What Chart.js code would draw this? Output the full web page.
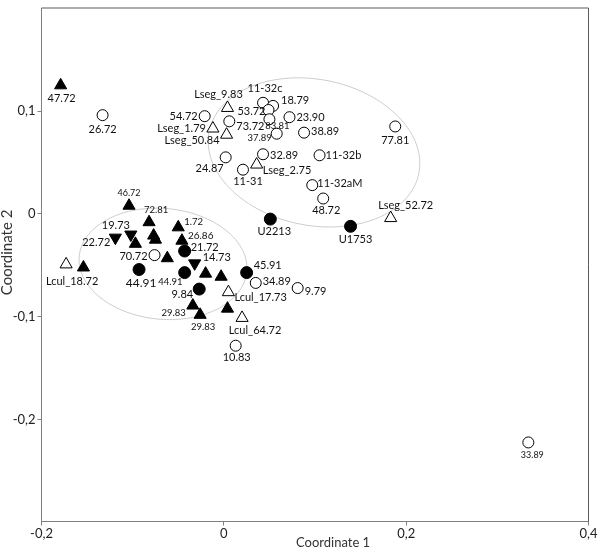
<!DOCTYPE html>
<html>
<head>
<meta charset="utf-8">
<script src="https://cdn.jsdelivr.net/npm/chart.js@4"></script>
<style>
  html, body { margin: 0; padding: 0; background: #fff; }
  canvas { display: block; }
</style>
</head>
<body>
<canvas id="chart" width="600" height="549"></canvas>
<script>
// open circles
const openCircleNames = ['26.72', '54.72', '11-32c', '18.79', '53.72', '83.81', '73.72', '23.90', '38.89', '37.89', '24.87',
  '32.89', '11-31', '11-32b', '11-32aM', '48.72', '77.81', '70.72', '34.89', '9.79', '10.83', '33.89'];
const openCircleX = [-0.133, -0.021, 0.043, 0.054, 0.049, 0.050, 0.006, 0.072, 0.088, 0.058, 0.002,
  0.043, 0.021, 0.105, 0.097, 0.109, 0.188, -0.076, 0.035, 0.081, 0.013, 0.334];
const openCircleY = [0.096, 0.095, 0.108, 0.105, 0.101, 0.092, 0.090, 0.094, 0.079, 0.078, 0.055,
  0.058, 0.043, 0.057, 0.028, 0.015, 0.085, -0.040, -0.067, -0.072, -0.128, -0.222];

// open triangles
const openTriNames = ['Lseg_9.83', 'Lseg_1.79', 'Lseg_50.84', 'Lseg_2.75', 'Lseg_52.72', 'Lcul_18.72', 'Lcul_17.73', 'Lcul_64.72'];
const openTriX = [0.004, -0.012, 0.003, 0.036, 0.183, -0.173, 0.005, 0.020];
const openTriY = [0.103, 0.083, 0.077, 0.048, -0.004, -0.049, -0.076, -0.101];

// filled circles
const dotNames = ['U2213', 'U1753', '21.72', '45.91', '44.91', '44.91', '9.84'];
const dotX = [0.051, 0.139, -0.043, 0.025, -0.093, -0.043, -0.027];
const dotY = [-0.005, -0.012, -0.036, -0.057, -0.054, -0.057, -0.073];

// filled triangles (up)
const triNames = ['47.72', '46.72', '72.81', '1.72', '26.86', '', '', '', '', '', '', '', '29.83', '29.83', ''];
const triX = [-0.179, -0.104, -0.082, -0.050, -0.046, -0.077, -0.075, -0.097, -0.062, -0.154, -0.020, -0.003, -0.034, -0.026, 0.004];
const triY = [0.125, 0.008, -0.008, -0.013, -0.026, -0.021, -0.025, -0.029, -0.043, -0.052, -0.058, -0.061, -0.089, -0.098, -0.092];

// filled triangles (down)
const downNames = ['22.72', '19.73', '14.73'];
const downX = [-0.119, -0.102, -0.032];
const downY = [-0.023, -0.020, -0.048];

const xTicks = [-0.2, 0, 0.2, 0.4];
const yTicks = [-0.2, -0.1, 0, 0.1];
const xTitle = 'Coordinate 1';
const yTitle = 'Coordinate 2';

// group ellipses: centre and two semi-axis vectors, data units
const ellipseCx = [0.0989, -0.0667];
const ellipseCy = [0.0598, -0.0485];
const ellipseAx = [0.1149, 0.0919];
const ellipseAy = [-0.0208, -0.0076];
const ellipseBx = [-0.0165, -0.0058];
const ellipseBy = [-0.0694, -0.0536];

// label placement: [dx, dy, align, font size]
const openCircleLabelPos = [
  [0, 14, 'c', 11], [-7, 0, 'r', 11], [2, -14, 'c', 11], [8, -5, 'l', 11], [-3, 1, 'r', 11],
  [8, 7, 'c', 9.5], [7, 5, 'l', 11], [7, 0, 'l', 11], [7, -1, 'l', 11], [-5, 4, 'r', 9.5],
  [-16, 11, 'c', 11], [7, 1, 'l', 11], [5, 12, 'c', 11], [6, 0, 'l', 11], [5, -2, 'l', 11],
  [3, 12, 'c', 11], [0, 14, 'c', 11], [-7, 1, 'r', 11], [7, -1, 'l', 11], [7, 3, 'l', 11],
  [1, 12, 'c', 11], [4, 13, 'c', 9]
];
const openTriLabelPos = [
  [-9, -13, 'c', 11], [-7, 0, 'r', 11], [-7, 6, 'r', 11], [6, 6, 'l', 11],
  [15, -13, 'c', 11], [6, 17, 'c', 11], [6, 5, 'l', 11], [13, 13, 'c', 11]
];
const dotLabelPos = [
  [4, 12, 'c', 11], [5, 13, 'c', 11], [6, -4, 'l', 11], [7, -7, 'l', 11],
  [2, 14, 'c', 12], [-2, 9, 'r', 9.5], [-6, 5, 'r', 11]
];
const triLabelPos = [
  [1, 13, 'c', 11], [0, -13, 'c', 9], [7, -12, 'c', 9.5], [6, -5, 'l', 9.5], [6, -5, 'l', 10],
  null, null, null, null, null, null, null,
  [-7, 7, 'r', 9.5], [3, 12, 'c', 9.5], null
];
const downLabelPos = [[-5, 5, 'r', 11], [-15, -9, 'c', 11], [8, -6, 'l', 11]];

const FONT = 'Lato, "DejaVu Sans", sans-serif';

const toPoints = (xs, ys) => xs.map((x, i) => ({ x: x, y: ys[i] }));

const series = (names, xs, ys, pos, style) => Object.assign({
  data: toPoints(xs, ys),
  pointNames: names,
  labelPos: pos,
  borderWidth: 1,
  borderColor: '#000'
}, style);

const ellipsePlugin = {
  id: 'ellipses',
  beforeDatasetsDraw(chart) {
    const { ctx, chartArea, scales: { x, y } } = chart;
    ctx.save();
    // frame top and right
    ctx.strokeStyle = '#5a5a5a';
    ctx.lineWidth = 1;
    ctx.beginPath();
    ctx.moveTo(chartArea.left, chartArea.top);
    ctx.lineTo(chartArea.right, chartArea.top);
    ctx.lineTo(chartArea.right, chartArea.bottom);
    ctx.stroke();

    ctx.strokeStyle = '#cccccc';
    ellipseCx.forEach((cx, k) => {
      ctx.beginPath();
      for (let s = 0; s <= 180; s++) {
        const t = s / 180 * Math.PI * 2;
        const vx = cx + ellipseAx[k] * Math.cos(t) + ellipseBx[k] * Math.sin(t);
        const vy = ellipseCy[k] + ellipseAy[k] * Math.cos(t) + ellipseBy[k] * Math.sin(t);
        const px = x.getPixelForValue(vx);
        const py = y.getPixelForValue(vy);
        if (s === 0) ctx.moveTo(px, py); else ctx.lineTo(px, py);
      }
      ctx.closePath();
      ctx.stroke();
    });
    ctx.restore();
  }
};

const labelPlugin = {
  id: 'pointLabels',
  afterDatasetsDraw(chart) {
    const ctx = chart.ctx;
    ctx.save();
    ctx.fillStyle = '#111';
    ctx.textBaseline = 'middle';
    chart.data.datasets.forEach((ds, di) => {
      const meta = chart.getDatasetMeta(di);
      ds.pointNames.forEach((name, i) => {
        const pos = ds.labelPos[i];
        if (!name || !pos) return;
        const el = meta.data[i];
        ctx.font = pos[3] + 'px ' + FONT;
        ctx.textAlign = pos[2] === 'l' ? 'left' : (pos[2] === 'r' ? 'right' : 'center');
        ctx.fillText(name, el.x + pos[0], el.y + pos[1]);
      });
    });

    // axis titles
    const area = chart.chartArea;
    ctx.fillStyle = '#333';
    ctx.textAlign = 'center';
    ctx.font = '13px ' + FONT;
    ctx.fillText(xTitle, area.left + (area.right - area.left) * 0.533, 543);
    ctx.translate(7, area.top + (area.bottom - area.top) * 0.476);
    ctx.rotate(-Math.PI / 2);
    ctx.font = '15px ' + FONT;
    ctx.fillText(yTitle, 0, 0);
    ctx.restore();
  }
};

const tickFormat = v => (v === 0 ? '0' : v.toFixed(1).replace('.', ','));

new Chart(document.getElementById('chart'), {
  type: 'scatter',
  data: {
    datasets: [
      series(downNames, downX, downY, downLabelPos, {
        pointStyle: 'triangle', rotation: 180, radius: 7, backgroundColor: '#000'
      }),
      series(triNames, triX, triY, triLabelPos, {
        pointStyle: 'triangle', radius: 7, backgroundColor: '#000'
      }),
      series(dotNames, dotX, dotY, dotLabelPos, {
        pointStyle: 'circle', radius: 6, backgroundColor: '#000'
      }),
      series(openTriNames, openTriX, openTriY, openTriLabelPos, {
        pointStyle: 'triangle', radius: 7, backgroundColor: '#fff'
      }),
      series(openCircleNames, openCircleX, openCircleY, openCircleLabelPos, {
        pointStyle: 'circle', radius: 5.5, backgroundColor: '#fff'
      })
    ]
  },
  options: {
    responsive: false,
    animation: false,
    devicePixelRatio: 1,
    layout: { padding: { left: 0, right: 11.5, top: 0.5, bottom: 0 } },
    plugins: {
      legend: { display: false },
      tooltip: { enabled: false }
    },
    elements: { point: { hoverRadius: 6 } },
    scales: {
      x: {
        type: 'linear',
        min: -0.2,
        max: 0.4,
        afterBuildTicks: scale => { scale.ticks = xTicks.map(v => ({ value: v })); },
        afterFit: scale => {
          scale.height = 27.5;
          scale.paddingLeft = 0;
          scale.paddingRight = 0;
        },
        grid: { drawOnChartArea: false, drawTicks: true, tickLength: 4, color: '#808080' },
        border: { display: true, color: '#808080' },
        ticks: {
          padding: 1,
          color: '#222',
          font: { family: FONT, size: 13 },
          maxRotation: 0,
          callback: tickFormat
        }
      },
      y: {
        type: 'linear',
        min: -0.2988,
        max: 0.2001,
        afterBuildTicks: scale => { scale.ticks = yTicks.map(v => ({ value: v })); },
        afterFit: scale => {
          scale.width = 41.5;
          scale.paddingTop = 0;
          scale.paddingBottom = 0;
        },
        grid: { drawOnChartArea: false, drawTicks: true, tickLength: 4, color: '#808080' },
        border: { display: true, color: '#808080' },
        ticks: {
          padding: 2,
          color: '#222',
          font: { family: FONT, size: 13 },
          callback: tickFormat
        }
      }
    }
  },
  plugins: [ellipsePlugin, labelPlugin]
});
</script>
</body>
</html>
